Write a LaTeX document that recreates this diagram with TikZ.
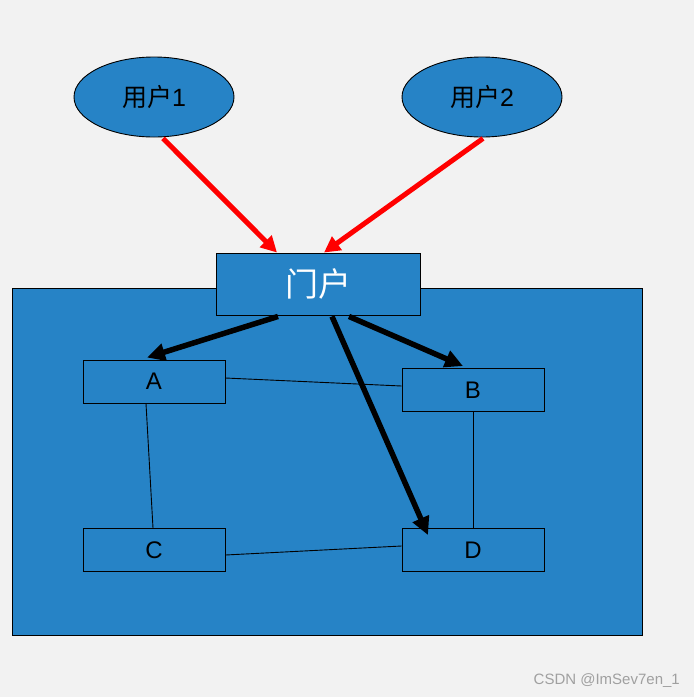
\documentclass[tikz,border=0pt]{standalone}
\usepackage{fontspec}
\setmainfont{Liberation Sans}
\newfontfamily\cjk{Noto Sans CJK SC}
\usetikzlibrary{shapes.geometric,arrows.meta,calc}
\definecolor{bgc}{HTML}{F2F2F2}
\definecolor{boxblue}{HTML}{2683C6}
\definecolor{wm}{HTML}{A0A0A0}
\tikzset{
  blk/.style={draw=black, line width=0.9pt, fill=boxblue, minimum width=142pt, minimum height=43pt, inner sep=0pt, font=\fontsize{24}{24}\selectfont},
  usr/.style={ellipse, draw=black, line width=0.9pt, fill=boxblue, minimum width=160pt, minimum height=80pt, inner sep=0pt, font=\fontsize{25}{25}\selectfont},
  redarr/.style={draw=red, line width=5pt, -{Triangle[length=16pt,width=16pt]}, color=red},
  blkarr/.style={draw=black, line width=5.5pt, -{Triangle[length=18pt,width=17pt]}},
  thin/.style={draw=black, line width=0.9pt}
}
\begin{document}
\begin{tikzpicture}[x=1pt,y=-1pt]
\fill[bgc] (0,0) rectangle (694,697);
\useasboundingbox (0,0) rectangle (694,697);
\node[draw=black, line width=0.9pt, fill=boxblue, minimum width=630pt, minimum height=347pt, inner sep=0pt, anchor=north west] (big) at (12,288) {};
\node[usr] (u1) at (154,97) {{\cjk 用户}1};
\node[usr] (u2) at (482,97) {{\cjk 用户}2};
\node[draw=black, line width=0.9pt, fill=boxblue, minimum width=204pt, minimum height=62pt, inner sep=0pt, text=white, font=\cjk\fontsize{33}{33}\selectfont] (portal) at (318,284) {门户};
\node[blk] (A) at (154,381.5) {A};
\node[blk] (B) at (473,390) {B};
\node[blk] (C) at (154,550) {C};
\node[blk] (D) at (473,550) {D};
% thin links
\draw[thin] ($(A.east)+(0,-3.5)$) -- ($(B.west)+(0,-4)$);
\draw[thin] ($(A.south)+(-8,0)$) -- ($(C.north)+(-1,0)$);
\draw[thin] ($(C.east)+(0,5)$) -- ($(D.west)+(0,-4)$);
\draw[thin] (B.south) -- (D.north);
% red arrows
\draw[redarr] ($(u1.south)+(9,1)$) -- ($(portal.north)+(-41,0)$);
\draw[redarr] ($(u2.south)+(1,1)$) -- ($(portal.north)+(6,0)$);
% black arrows
\draw[blkarr] ($(portal.south)+(-40,1)$) -- ($(A.north)+(-7,-2)$);
\draw[blkarr] ($(portal.south)+(14,1)$) -- ($(D.north)+(-45,7)$);
\draw[blkarr] ($(portal.south)+(31,1)$) -- ($(B.north)+(-10,-2)$);
\node[text=wm, font=\fontsize{15}{15}\selectfont, anchor=east, inner sep=0pt] (wmk) at (680,681) {CSDN @ImSev7en\_1};
\end{tikzpicture}
\end{document}
